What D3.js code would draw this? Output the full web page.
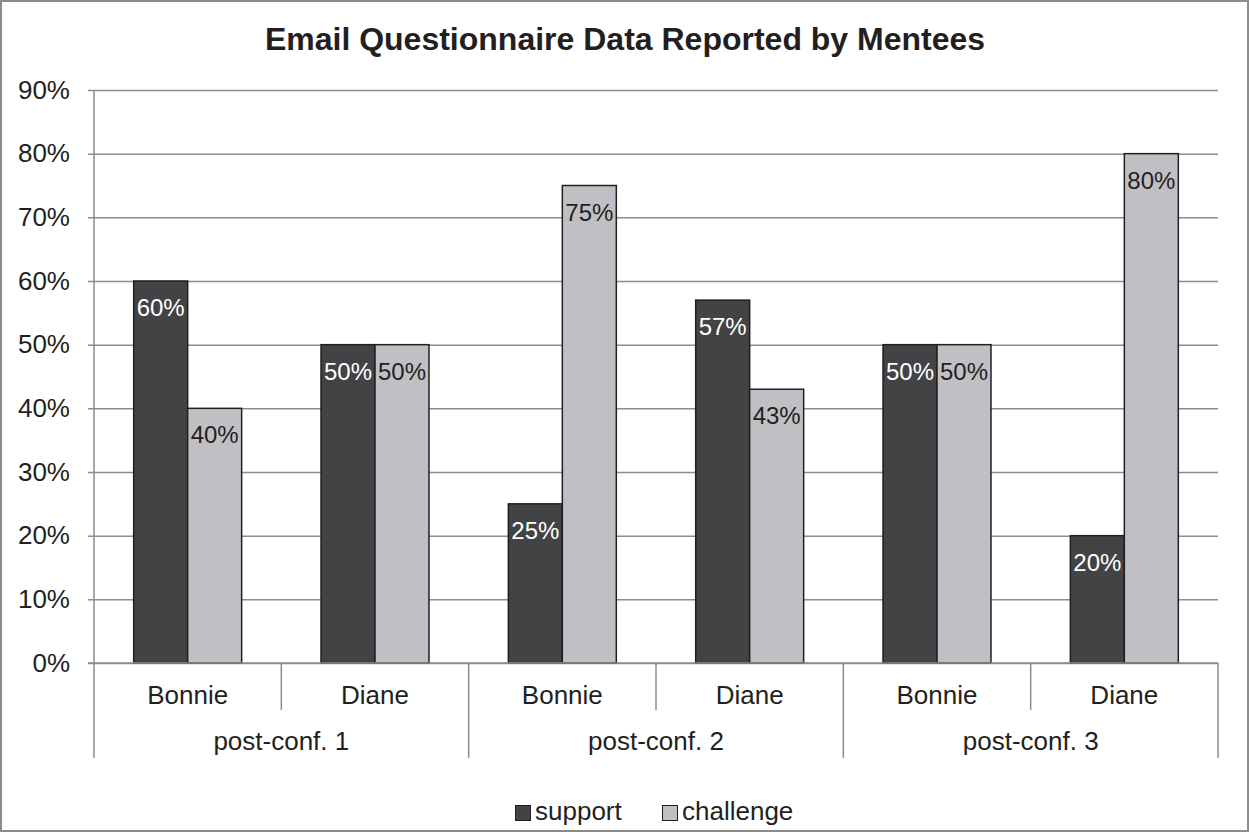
<!DOCTYPE html>
<html><head><meta charset="utf-8">
<script src="https://cdn.jsdelivr.net/npm/d3@7"></script>
<style>body{margin:0;background:#fff}svg{display:block;font-family:"Liberation Sans",Arial,sans-serif}</style>
</head><body><svg id="c" width="1249" height="832"></svg>
<script>
const groups = ["post-conf. 1","post-conf. 2","post-conf. 3"];
const mentees = ["Bonnie","Diane"];
const categories = [["post-conf. 1","Bonnie"],["post-conf. 1","Diane"],["post-conf. 2","Bonnie"],["post-conf. 2","Diane"],["post-conf. 3","Bonnie"],["post-conf. 3","Diane"]];
const seriesNames = ["support","challenge"];
const support = [60,50,25,57,50,20];
const challenge = [40,50,75,43,50,80];
const yTicks = [0,10,20,30,40,50,60,70,80,90];
const title = "Email Questionnaire Data Reported by Mentees";

const svg = d3.select("#c");
const W=1249,H=832;
const L=94,R=1218,T=90,B=663;
const colors = {support:"#434345",challenge:"#c0c0c4"};
const labelColors = {support:"#ffffff",challenge:"#231f20"};
const text="#231f20", gridC="#8c8c8c";

svg.append("rect").attr("x",1).attr("y",1).attr("width",W-2).attr("height",H-2).attr("fill","#fff").attr("stroke","#8c8c8c").attr("stroke-width",2);

svg.append("text").attr("x",625).attr("y",50).attr("text-anchor","middle").attr("font-size",32).attr("font-weight","bold").attr("fill",text).text(title);

const y = d3.scaleLinear().domain([0,90]).range([B,T]);
const x = d3.scaleBand().domain(d3.range(categories.length)).range([L,R]).paddingInner(0).paddingOuter(0);
const xs = d3.scaleBand().domain(seriesNames).range([0,x.bandwidth()]).paddingOuter(0.735).paddingInner(0);

// grid
const yAxis = d3.axisLeft(y).tickValues(yTicks).tickFormat(d=>d+"%").tickSize(-(R-L)).tickPadding(24);
const ga = svg.append("g").attr("transform",`translate(${L},0)`).call(yAxis);
ga.select(".domain").remove();
ga.selectAll(".tick line").attr("stroke",gridC).attr("stroke-width",1.5).attr("x1",-6);
ga.selectAll(".tick text").attr("font-size",26).attr("fill",text).attr("font-family","Liberation Sans, Arial, sans-serif").attr("dy","0.32em");

// axis line
svg.append("line").attr("x1",L).attr("x2",L).attr("y1",T).attr("y2",758).attr("stroke",gridC).attr("stroke-width",1.5);

// bars
const data = categories.map((c,i)=>({i,support:support[i],challenge:challenge[i]}));
seriesNames.forEach(s=>{
  const g = svg.append("g");
  g.selectAll("rect").data(data).join("rect")
   .attr("x",d=>x(d.i)+xs(s)).attr("width",xs.bandwidth())
   .attr("y",d=>y(d[s])).attr("height",d=>B-y(d[s]))
   .attr("fill",colors[s]).attr("stroke","#231f20").attr("stroke-width",1.5);
  g.selectAll("text").data(data).join("text")
   .attr("x",d=>x(d.i)+xs(s)+xs.bandwidth()/2).attr("y",d=>y(d[s])+35)
   .attr("text-anchor","middle").attr("font-size",24).attr("fill",labelColors[s])
   .text(d=>d[s]+"%");
});

// baseline
svg.append("line").attr("x1",L-6).attr("x2",R).attr("y1",B).attr("y2",B).attr("stroke",gridC).attr("stroke-width",1.5);

// category labels and separators
categories.forEach((c,i)=>{
  svg.append("text").attr("x",x(i)+x.bandwidth()/2).attr("y",704).attr("text-anchor","middle").attr("font-size",26).attr("fill",text).text(c[1]);
  const xe = x(i)+x.bandwidth();
  svg.append("line").attr("x1",xe).attr("x2",xe).attr("y1",B).attr("y2",i%2===1?758:710).attr("stroke",gridC).attr("stroke-width",1.5);
});
groups.forEach((g,gi)=>{
  const x0 = x(gi*2), x1 = x(gi*2+1)+x.bandwidth();
  svg.append("text").attr("x",(x0+x1)/2).attr("y",750).attr("text-anchor","middle").attr("font-size",26).attr("fill",text).text(g);
});

// legend
const leg = [{n:"support",x:515},{n:"challenge",x:662}];
leg.forEach(l=>{
  svg.append("rect").attr("x",l.x+0.5).attr("y",805.5).attr("width",15).attr("height",15).attr("fill",colors[l.n]).attr("stroke","#231f20").attr("stroke-width",1);
  svg.append("text").attr("x",l.x+20).attr("y",820).attr("font-size",26).attr("fill",text).text(l.n);
});
</script></body></html>
